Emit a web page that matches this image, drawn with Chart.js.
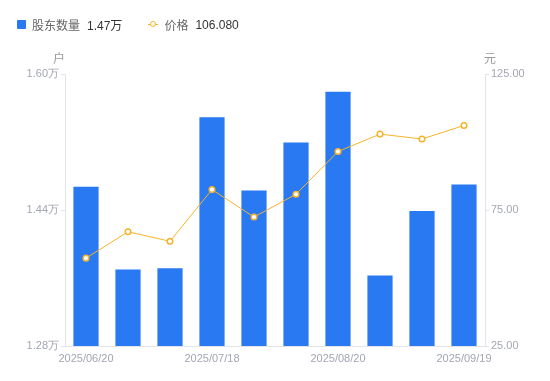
<!DOCTYPE html>
<html>
<head>
<meta charset="utf-8">
<script src="https://cdn.jsdelivr.net/npm/chart.js@4"></script>
<style>
  body { margin: 0; background: #fff; font-family: "Liberation Sans", Arial, "Noto Sans CJK SC", sans-serif; }
  #wrap { position: relative; width: 550px; height: 381px; }
  #legend { position: absolute; left: 17px; top: 16px; font-size: 12px; color: #666; display: flex; align-items: center; white-space: nowrap; }
  .sq { display: inline-block; width: 9px; height: 9px; background: #2979F2; border-radius: 1px; margin-right: 6px; }
  .val { color: #333; margin-left: 7px; }
  .mk { position: relative; display: inline-block; width: 10px; height: 9px; margin-left: 26px; margin-right: 6px; }
  .mk:before { content: ''; position: absolute; left: 0; top: 4px; width: 10px; height: 1px; background: #F7B32B; }
  .mk:after { content: ''; position: absolute; left: 2px; top: 1px; width: 4px; height: 4px; border: 1.5px solid #F7B32B; border-radius: 50%; background: #fff; }
  .unit { position: absolute; top: 49px; font-size: 12px; color: #999; }
</style>
</head>
<body>
<div id="wrap">
  <div id="legend">
    <span class="sq"></span><span>股东数量</span><span class="val" id="v1"></span>
    <span class="mk"></span><span>价格</span><span class="val" id="v2"></span>
  </div>
  <div class="unit" style="left:53px">户</div>
  <div class="unit" style="left:484px">元</div>
  <canvas id="chart" width="550" height="381"></canvas>
</div>
<script>
// 日期
const dates = ['2025/06/20', '2025/06/30', '2025/07/10', '2025/07/18', '2025/07/31',
               '2025/08/08', '2025/08/20', '2025/08/29', '2025/09/10', '2025/09/19'];
// 股东数量 (万户)
const holders = [1.4675, 1.370, 1.3715, 1.549, 1.463, 1.5195, 1.579, 1.363, 1.4388, 1.470];
// 价格 (元)
const prices = [57.3, 67.0, 63.5, 82.5, 72.4, 80.8, 96.5, 102.9, 101.1, 106.08];
const leftTicks = [1.28, 1.44, 1.60];
const rightTicks = [25, 75, 125];

document.getElementById('v1').textContent = holders[holders.length - 1].toFixed(2) + '万';
document.getElementById('v2').textContent = prices[prices.length - 1].toFixed(3);

const tickColor = '#A3A6B4';
const lineColor = '#E3E5EA';

const ctx = document.getElementById('chart').getContext('2d');
new Chart(ctx, {
    data: {
        labels: dates,
        datasets: [{
            type: 'line',
            label: '价格',
            data: prices,
            yAxisID: 'y1',
            borderColor: '#F7B32B',
            borderWidth: 1,
            backgroundColor: '#fff',
            pointBorderColor: '#F7B32B',
            pointBackgroundColor: '#fff',
            pointBorderWidth: 1.5,
            pointRadius: 2.8,
            tension: 0,
            order: 0
        }, {
            type: 'bar',
            label: '股东数量',
            data: holders,
            yAxisID: 'y',
            backgroundColor: '#2979F2',
            barPercentage: 0.6,
            categoryPercentage: 1,
            order: 1
        }]
    },
    options: {
        responsive: false,
        animation: false,
        layout: { padding: { top: 74, left: 0, right: 0, bottom: 0 } },
        plugins: { legend: { display: false }, tooltip: { enabled: false } },
        scales: {
            x: {
                grid: { display: false },
                border: { color: lineColor },
                ticks: {
                    autoSkip: false,
                    maxRotation: 0,
                    color: tickColor,
                    font: { size: 11 },
                    padding: -2,
                    callback: (v, i) => (i % 3 === 0 ? dates[i] : '')
                },
                afterFit: s => { s.height = 35; }
            },
            y: {
                position: 'left',
                min: leftTicks[0],
                max: leftTicks[leftTicks.length - 1],
                afterBuildTicks: s => { s.ticks = leftTicks.map(v => ({ value: v })); },
                grid: { drawOnChartArea: false, tickLength: 4, color: lineColor },
                border: { color: lineColor },
                ticks: {
                    color: tickColor,
                    font: { size: 11 },
                    padding: 2,
                    callback: v => v.toFixed(2) + '万'
                },
                afterFit: s => { s.width = 65; }
            },
            y1: {
                position: 'right',
                min: rightTicks[0],
                max: rightTicks[rightTicks.length - 1],
                afterBuildTicks: s => { s.ticks = rightTicks.map(v => ({ value: v })); },
                grid: { drawOnChartArea: false, tickLength: 4, color: lineColor },
                border: { color: lineColor },
                ticks: {
                    color: tickColor,
                    font: { size: 11 },
                    padding: 2,
                    callback: v => v.toFixed(2)
                },
                afterFit: s => { s.width = 65; }
            }
        }
    }
});
</script>
</body>
</html>
